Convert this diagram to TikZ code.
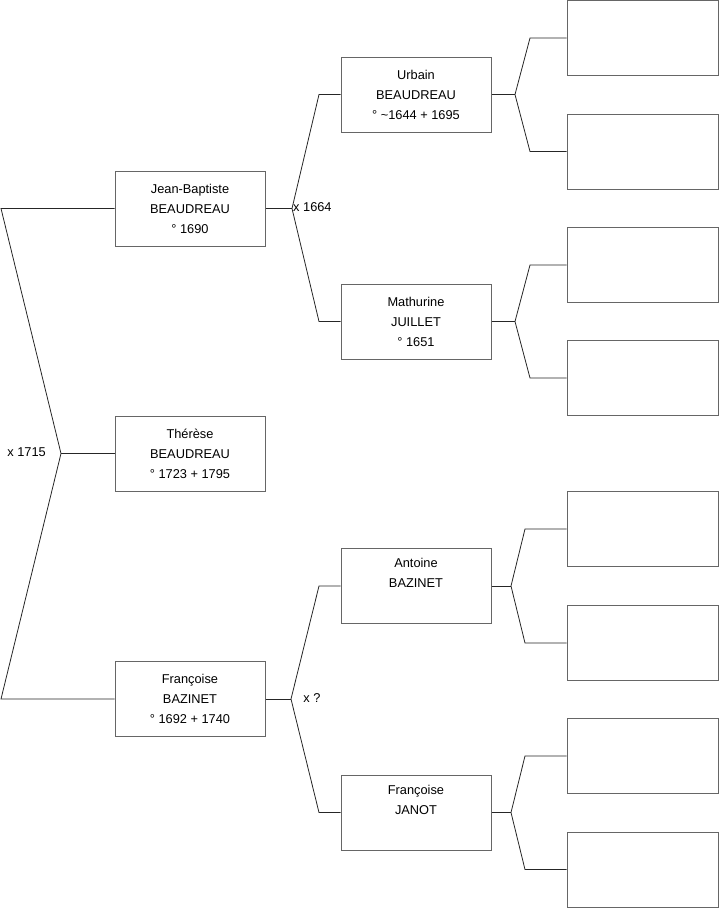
\documentclass[tikz,border=0pt]{standalone}
\usepackage{fontspec}
\setmainfont{Liberation Sans}
\begin{document}
\begin{tikzpicture}[x=1pt,y=-1pt,
  person/.style={draw=black!60, line width=1pt, fill=white, minimum width=150pt, minimum height=75pt, inner sep=0pt, align=center, font=\fontsize{12.8}{20}\selectfont},
  empty/.style={draw=black!60, line width=1pt, fill=white, minimum width=151pt, minimum height=75pt, inner sep=0pt},
  link/.style={draw=black!85, line width=0.8pt},
  lab/.style={font=\fontsize{12.8}{14}\selectfont, inner sep=0pt}]
\useasboundingbox (0,0) rectangle (719,908);
% generation 1
\node[person] (th) at (190,453.5) {Thérèse\\BEAUDREAU\\° 1723 + 1795};
% generation 2
\node[person] (jb) at (190,208.5) {Jean-Baptiste\\BEAUDREAU\\° 1690};
\node[person] (fb) at (190,699) {Françoise\\BAZINET\\° 1692 + 1740};
% generation 3
\node[person] (ub) at (416,94.5) {Urbain\\BEAUDREAU\\° \textasciitilde1644 + 1695};
\node[person] (mj) at (416,321.5) {Mathurine\\JUILLET\\° 1651};
\node[person] (ab) at (416,586) {Antoine\\BAZINET\\\strut};
\node[person] (fj) at (416,812.5) {Françoise\\JANOT\\\strut};
% generation 4
\node[empty] (e1) at (642.5,38) {};
\node[empty] (e2) at (642.5,151.5) {};
\node[empty] (e3) at (642.5,265) {};
\node[empty] (e4) at (642.5,378) {};
\node[empty] (e5) at (642.5,529) {};
\node[empty] (e6) at (642.5,643) {};
\node[empty] (e7) at (642.5,756) {};
\node[empty] (e8) at (642.5,869.5) {};
% branch points
\coordinate (m0) at (61,453.5);
\coordinate (lt) at (1,208.5);
\coordinate (lb) at (1,699);
\coordinate (m1) at (292,208.5);
\coordinate (m1t) at (319,94.5);
\coordinate (m1b) at (319,321.5);
\coordinate (m2) at (291,699);
\coordinate (m2t) at (319,586);
\coordinate (m2b) at (319,812.5);
\coordinate (u) at (515,94.5);
\coordinate (ut) at (530,38);
\coordinate (ub2) at (530,151.5);
\coordinate (m) at (515,321.5);
\coordinate (mt) at (530,265);
\coordinate (mb) at (530,378);
\coordinate (a) at (511,586);
\coordinate (at2) at (525,529);
\coordinate (ab2) at (525,643);
\coordinate (f) at (511,812.5);
\coordinate (ft) at (525,756);
\coordinate (fb2) at (525,869.5);
% connectors
\draw[link] (th.west) -- (m0);
\draw[link] (jb.west) -- (lt) -- (m0) -- (lb) -- (fb.west);
\draw[link] (jb.east) -- (m1);
\draw[link] (ub.west) -- (m1t) -- (m1) -- (m1b) -- (mj.west);
\draw[link] (fb.east) -- (m2);
\draw[link] (ab.west) -- (m2t) -- (m2) -- (m2b) -- (fj.west);
\draw[link] (ub.east) -- (u);
\draw[link] (e1.west) -- (ut) -- (u) -- (ub2) -- (e2.west);
\draw[link] (mj.east) -- (m);
\draw[link] (e3.west) -- (mt) -- (m) -- (mb) -- (e4.west);
\draw[link] (ab.east) -- (a);
\draw[link] (e5.west) -- (at2) -- (a) -- (ab2) -- (e6.west);
\draw[link] (fj.east) -- (f);
\draw[link] (e7.west) -- (ft) -- (f) -- (fb2) -- (e8.west);
% labels
\node[lab, anchor=east] (l1) at (46,452) {x 1715};
\node[lab, anchor=west] (l2) at (293,207) {x 1664};
\node[lab] (l3) at (312,698) {x ?};
\end{tikzpicture}
\end{document}
